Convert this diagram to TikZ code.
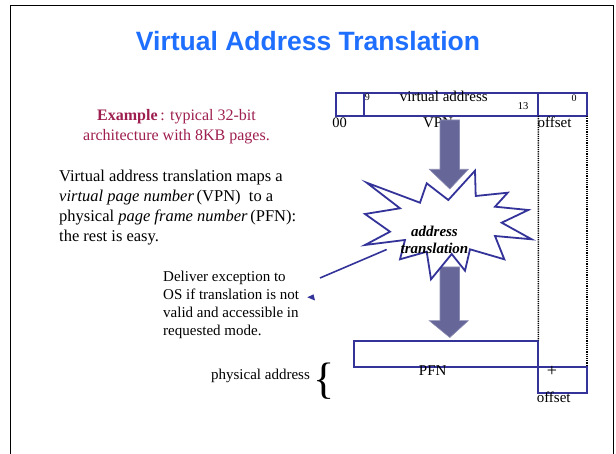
\documentclass[tikz,border=0pt]{standalone}
\usepackage{fontspec}
\setmainfont{Liberation Serif}
\newfontfamily\titlefont{Liberation Sans}
\definecolor{titleblue}{HTML}{1F6FFF}
\definecolor{boxblue}{HTML}{333399}
\definecolor{arrowfill}{HTML}{666699}
\definecolor{exred}{HTML}{9E1F4F}
\tikzset{
  vbox/.style={draw=boxblue, line width=1.8pt, inner sep=0pt, outer sep=0pt, anchor=north west},
  guide/.style={draw=black, line width=1.5pt, dash pattern=on 1.2pt off 1pt},
  bigarrow/.style={fill=arrowfill, draw=arrowfill!75!white, line width=0.6pt},
  starshape/.style={fill=white, draw=boxblue, line width=1.8pt, line join=miter},
  lbl/.style={inner sep=0pt, anchor=base, font=\fontsize{15}{18}\selectfont},
  small/.style={inner sep=0pt, anchor=base, font=\fontsize{10}{12}\selectfont},
  blk/.style={inner sep=0pt, align=left, anchor=north west},
}
\begin{document}
\begin{tikzpicture}[x=1pt,y=-1pt]
\useasboundingbox (0,0) rectangle (616,454);
\fill[white] (0,0) rectangle (616,454);
% slide frame
\draw[line width=1.8pt] (10.5,454) -- (10.5,5.5) -- (613.5,5.5) -- (613.5,454);

% title
\node[inner sep=0pt, text=titleblue, font=\titlefont\bfseries\fontsize{26.5}{30}\selectfont] (title) at (308,41) {Virtual Address Translation};

% left texts
\node[inner sep=0pt, anchor=north, align=center, text=exred, font=\fontsize{16}{20}\selectfont] (example) at (176.5,109) {\textbf{Example}\,: typical 32-bit\\architecture with 8KB pages.};
\node[blk, font=\fontsize{16.5}{20}\selectfont] (para) at (59,170) {Virtual address translation maps a\\\textit{virtual page number}\,(VPN)~ to a\\physical \textit{page frame number}\,(PFN):\\the rest is easy.};
\node[blk, font=\fontsize{15}{18}\selectfont] (deliver) at (163,270.5) {Deliver exception to\\OS if translation is not\\valid and accessible in\\requested mode.};

% virtual address boxes
\node[vbox, minimum width=28pt, minimum height=23pt] (va1) at (336,93) {};
\node[vbox, minimum width=174.3pt, minimum height=23pt] (va2) at (364,93) {};
\node[vbox, minimum width=48.7pt, minimum height=23pt] (va3) at (538.3,93) {};

% physical address boxes
\node[vbox, minimum width=184.3pt, minimum height=26pt] (pfn) at (354,340.7) {};
\node[vbox, minimum width=48.7pt, minimum height=26pt] (offbox) at (538.3,366.7) {};

% dotted guides
\draw[guide] (va3.south west) -- (pfn.north east);
\draw[guide] (va3.south east) -- (offbox.north east);

% labels on the boxes
\node[lbl] (valbl) at (443.8,102) {virtual address};
\node[small] (b9) at (367.3,100.7) {9};
\node[small, font=\fontsize{10.5}{12}\selectfont] (b13) at (523,110) {13};
\node[small] (b0) at (574,101.7) {0};
\node[lbl, font=\fontsize{14.5}{18}\selectfont] (b00) at (339.5,127.7) {00};
\node[lbl] (vpn) at (438,127.7) {VPN};
\node[lbl] (offa) at (554.5,127.7) {offset};
\node[lbl] (pfnlbl) at (432.7,376) {PFN};
\node[inner sep=0pt, font=\fontsize{18}{20}\selectfont] (plus) at (552,371) {+};
\node[lbl] (offb) at (553.7,402.7) {offset};
\node[lbl] (phys) at (260.5,379.7) {physical address};
\node[inner sep=0pt, font=\fontsize{44}{44}\selectfont] (brace) at (324,381) {\{};

% block arrows
\draw[bigarrow] (440,120) -- (459.5,120) -- (459.5,169.3) -- (468.3,169.3) -- (449.8,189) -- (429.3,169.3) -- (440,169.3) -- cycle;
\draw[bigarrow] (440,267) -- (459.5,267) -- (459.5,320.7) -- (468.3,320.7) -- (449.8,337.5) -- (429.3,320.7) -- (440,320.7) -- cycle;

% starburst
\draw[starshape] (366.7,182.7) -- (420,202.7) -- (426.7,183.3) -- (448.3,200) -- (475,170.7) -- (475.7,196)
  -- (507.7,192.7) -- (495,206.7) -- (528.3,210) -- (501.7,222.7) -- (531.7,239.3) -- (495,236)
  -- (504.3,259.3) -- (470,249.3) -- (465,270.7) -- (451.7,254) -- (431,279.3) -- (426.7,251.7)
  -- (400,259.3) -- (405,240) -- (365,245) -- (390,231.7) -- (365,214) -- (400,208.3) -- cycle;
\node[inner sep=0pt, anchor=north, align=center, font=\bfseries\itshape\fontsize{15}{17}\selectfont] (startext) at (434.5,225.6) {address\\translation};

% connector from the exception note to the starburst
\coordinate (c1) at (320,278);
\coordinate (c2) at (386.7,249.5);
\draw[boxblue, line width=1.6pt] (c1) -- (c2);
\fill[boxblue] (307.3,297.3) -- (313.5,294.3) -- (315,300.5) -- cycle;
\end{tikzpicture}
\end{document}
